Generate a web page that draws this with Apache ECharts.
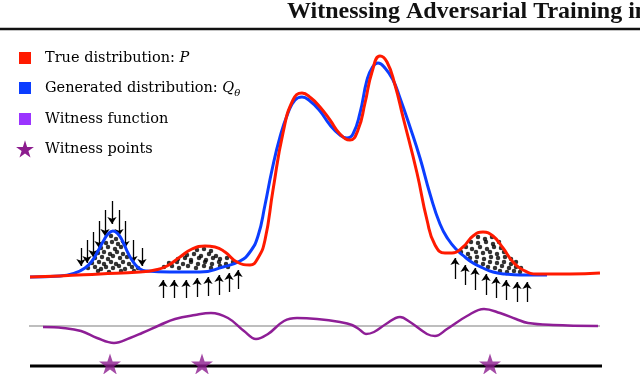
<!DOCTYPE html>
<html lang="en">
  <head>
    <meta charset="UTF-8" />
    <title>Witnessing Adversarial Training</title>
    <script src="https://cdn.jsdelivr.net/npm/echarts@6.0.0/dist/echarts.min.js"></script>
    <style>
      html, body { margin: 0; padding: 0; background: #fff; }
      #main { width: 640px; height: 374px; }
    </style>
  </head>
  <body>
    <div id="main"></div>
    <script>
      // plot space: x 0..640, y 0..374 (y grows downwards, like the figure)
      const titleText = 'Witnessing Adversarial Training in';
      const legendLabels = ['True distribution: ', 'Generated distribution: ', 'Witness function', 'Witness points'];

      const trueDist = [
        [30, 277], [60, 276], [100, 274], [140, 272], [155, 270], [167, 266], [180, 257], [192, 249],
        [205, 246], [215, 247], [225, 252], [237, 262], [250, 265], [258, 258], [265, 240], [273, 190],
        [283, 133], [293, 100], [302, 93], [311, 98], [320, 107], [330, 120], [340, 134], [350, 140],
        [358, 130], [365, 103], [372, 72], [380, 56], [387, 62], [395, 85], [403, 117], [417, 173],
        [427, 220], [435, 245], [445, 253], [452, 253], [463, 247], [473, 236], [483, 232], [493, 236],
        [503, 248], [513, 262], [523, 270], [537, 274], [570, 274], [600, 273]
      ];
      const generatedDist = [
        [30, 277], [60, 276], [75, 273], [85, 268], [92, 261], [98, 251], [104, 240], [108, 234],
        [113, 231], [118, 234], [123, 242], [128, 253], [134, 263], [140, 269], [147, 271], [170, 272],
        [200, 272], [223, 267], [240, 261], [250, 252], [258, 236], [265, 205], [272, 170], [280, 137],
        [288, 113], [295, 100], [302, 97], [310, 101], [320, 111], [330, 125], [340, 135], [347, 138],
        [353, 134], [360, 113], [367, 80], [372, 68], [378, 63], [385, 68], [393, 80], [400, 98],
        [410, 127], [420, 158], [430, 194], [440, 224], [448, 239], [457, 250], [465, 257], [473, 263],
        [483, 268], [493, 272], [505, 274], [520, 275], [547, 275]
      ];
      const witnessFn = [
        [43, 327], [63, 328], [81, 331], [97, 338], [114, 343], [130, 338], [142, 333], [160, 325],
        [175, 319], [195, 315], [211, 313], [228, 318], [244, 331], [256, 339], [268, 334], [284, 321],
        [297, 318], [317, 319], [340, 322], [352, 325], [360, 330], [366, 334], [374, 332], [386, 324],
        [400, 317], [410, 322], [427, 334], [435, 336], [447, 329], [467, 316], [484, 309], [500, 313],
        [516, 319], [528, 323], [553, 325], [598, 326]
      ];
      const zeroLine = [[29, 326], [600, 326]];
      const pointAxis = [[30, 366], [602, 366]];
      const witnessPoints = [[110, 364], [202, 364], [490, 364]];

      // samples (dots) in the three regions
      const samples = [
        [111, 236], [116, 239], [106, 243], [112, 242], [118, 244], [101, 248], [108, 247], [115, 249], [121, 247],
        [98, 253], [104, 252], [110, 254], [117, 252], [123, 254], [95, 258], [102, 257], [108, 259], [113, 256],
        [120, 258], [127, 257], [92, 263], [99, 262], [104, 264], [111, 262], [116, 264], [123, 262], [129, 264],
        [88, 268], [95, 267], [101, 269], [106, 267], [113, 268], [119, 266], [125, 269], [132, 267], [138, 268],
        [98, 271], [109, 272], [121, 271], [134, 271],
        [197, 250], [204, 249], [211, 251], [187, 255], [194, 254], [201, 256], [209, 254], [216, 256],
        [178, 259], [185, 258], [191, 260], [199, 258], [206, 260], [213, 258], [220, 259], [227, 258],
        [169, 263], [177, 262], [183, 264], [191, 262], [198, 264], [205, 262], [212, 264], [219, 262], [226, 264], [233, 262],
        [164, 267], [172, 266], [179, 268], [188, 266], [196, 268], [204, 266], [211, 268], [220, 266], [228, 267],
        [478, 237], [485, 239], [492, 237], [471, 242], [478, 243], [486, 242], [493, 244], [499, 242],
        [466, 247], [472, 249], [480, 247], [487, 249], [494, 247], [501, 248], [461, 252], [468, 254],
        [476, 252], [483, 253], [490, 252], [497, 254], [504, 252], [470, 258], [477, 257], [484, 259],
        [491, 257], [498, 258], [505, 257], [511, 259], [476, 262], [483, 264], [490, 262], [497, 263],
        [504, 262], [511, 264], [516, 262], [488, 267], [495, 268], [502, 266], [509, 268], [516, 267],
        [521, 268], [500, 271], [507, 272], [514, 271], [520, 272]
      ];

      // arrows: [x, from y, to y]
      const pushDown = [
        [81, 248, 266], [87, 240, 263], [93, 232, 257], [99, 221, 248], [105, 210, 236],
        [112, 201, 224], [119, 210, 236], [125, 221, 248], [133, 240, 263], [142, 248, 266]
      ];
      const pushUpMid = [
        [163, 298, 280], [174, 298, 280], [186, 298, 280], [197, 297, 278],
        [208, 296, 277], [219, 295, 275], [229, 292, 273], [238, 289, 270]
      ];
      const pushUpRight = [
        [455, 279, 258], [465, 285, 265], [475, 290, 268], [486, 295, 274],
        [496, 298, 277], [506, 300, 280], [517, 302, 282], [527, 302, 282]
      ];

      const starPath = 'path://M50,2L61.8,38.2L99.5,38.2L69,60.6L80.6,96.8L50,74.5L19.4,96.8L31,60.6L0.5,38.2L38.2,38.2Z';
      const starPoints = [[50, 2], [61.8, 38.2], [99.5, 38.2], [69, 60.6], [80.6, 96.8], [50, 74.5], [19.4, 96.8], [31, 60.6], [0.5, 38.2], [38.2, 38.2]];
      const serif = "'DejaVu Serif', 'Liberation Serif', serif";

      const arrowData = pushDown.concat(pushUpMid, pushUpRight).map(function (a) {
        return { coords: [[a[0], a[1]], [a[0], a[2]]] };
      });

      const legendTop = [58, 88, 119, 149];
      const legendColors = ['#ff1a00', '#0b3dff', '#9b34ff', '#8c1c8e'];
      const legendRich = {
        n: { fontFamily: serif, fontSize: 14.5, color: '#222', lineHeight: 20 },
        i: { fontFamily: serif, fontSize: 14.5, fontStyle: 'italic', color: '#222', lineHeight: 20 },
        s: { fontFamily: serif, fontSize: 10, fontStyle: 'italic', color: '#222', lineHeight: 20, verticalAlign: 'bottom', padding: [6, 0, 0, 0] }
      };
      const legendTexts = [
        '{n|' + legendLabels[0] + '}{i|P}',
        '{n|' + legendLabels[1] + '}{i|Q}{s|θ}',
        '{n|' + legendLabels[2] + '}',
        '{n|' + legendLabels[3] + '}'
      ];
      const legendGraphics = [];
      for (let i = 0; i < 4; i++) {
        if (i < 3) {
          legendGraphics.push({
            type: 'rect',
            shape: { x: 19, y: legendTop[i] - 6, width: 12, height: 12 },
            style: { fill: legendColors[i] }
          });
        } else {
          legendGraphics.push({
            type: 'polygon',
            x: 16,
            y: legendTop[i] - 9,
            scaleX: 0.18,
            scaleY: 0.18,
            shape: { points: starPoints },
            style: { fill: legendColors[i] }
          });
        }
        legendGraphics.push({
          type: 'text',
          x: 45,
          y: legendTop[i],
          style: { text: legendTexts[i], rich: legendRich, verticalAlign: 'middle' }
        });
      }

      const chart = echarts.init(document.getElementById('main'));
      const option = {
        animation: false,
        backgroundColor: '#fff',
        title: {
          text: titleText,
          left: 287,
          top: 0,
          padding: 0,
          textStyle: { fontFamily: "'Liberation Serif', serif", fontWeight: 'bold', fontSize: 24, color: '#111' }
        },
        grid: { left: 0, right: 0, top: 0, bottom: 0 },
        xAxis: { type: 'value', min: 0, max: 640, show: false },
        yAxis: { type: 'value', min: 0, max: 374, inverse: true, show: false },
        graphic: [
          { type: 'line', shape: { x1: 0, y1: 29, x2: 640, y2: 29 }, style: { stroke: '#111', lineWidth: 2.5 } }
        ].concat(legendGraphics),
        series: [
          {
            type: 'line', data: zeroLine, symbol: 'none',
            lineStyle: { color: '#a8a8a8', width: 1.5 }, z: 1
          },
          {
            type: 'line', data: pointAxis, symbol: 'none',
            lineStyle: { color: '#000', width: 3 }, z: 1
          },
          {
            name: 'Witness function', type: 'line', data: witnessFn, symbol: 'none', smooth: 0.4,
            lineStyle: { color: '#8e1e96', width: 2.5 }, z: 2
          },
          {
            name: 'Witness points', type: 'scatter', data: witnessPoints, symbol: starPath,
            symbolSize: [22, 21], itemStyle: { color: '#8c1c8e' }, z: 3
          },
          {
            type: 'scatter', data: samples, symbol: 'circle', symbolSize: 4.5,
            itemStyle: { color: '#000' }, z: 2
          },
          {
            type: 'lines', coordinateSystem: 'cartesian2d', data: arrowData,
            symbol: ['none', 'arrow'], symbolSize: 7,
            lineStyle: { color: '#000', width: 1.3, opacity: 1 }, z: 2
          },
          {
            name: 'Generated distribution', type: 'line', data: generatedDist, symbol: 'none', smooth: 0.5,
            lineStyle: { color: '#0b3dff', width: 3 }, z: 3
          },
          {
            name: 'True distribution', type: 'line', data: trueDist, symbol: 'none', smooth: 0.5,
            lineStyle: { color: '#ff1a00', width: 3 }, z: 4
          }
        ]
      };
      chart.setOption(option);
    </script>
  </body>
</html>
